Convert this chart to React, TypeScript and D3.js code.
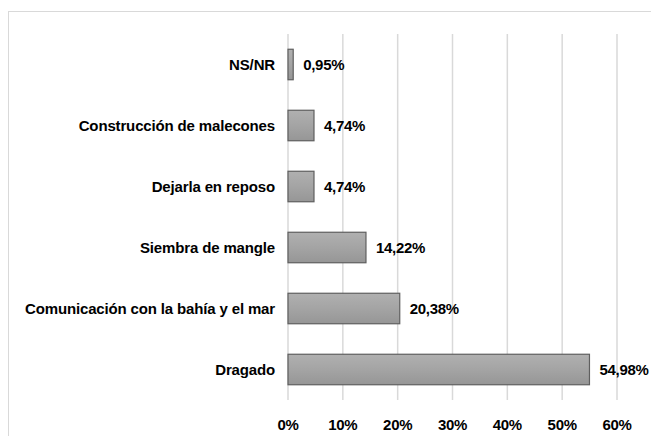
import React from "react";
import * as d3 from "d3";

const categories = [
  "NS/NR",
  "Construcción de malecones",
  "Dejarla en reposo",
  "Siembra de mangle",
  "Comunicación con la bahía y el mar",
  "Dragado",
];
const values = [0.95, 4.74, 4.74, 14.22, 20.38, 54.98];
const valueLabels = ["0,95%", "4,74%", "4,74%", "14,22%", "20,38%", "54,98%"];
const ticks = [0, 10, 20, 30, 40, 50, 60];

export default function App() {
  const W = 651, H = 436;
  const x = d3.scaleLinear().domain([0, 60]).range([288, 617]);
  const y = d3.scaleBand().domain(categories).range([34, 400]).paddingInner(0.5).paddingOuter(0.25);
  const font = "'Liberation Sans', Arial, sans-serif";
  return (
    <svg width={W} height={H} style={{ position: "absolute", left: 0, top: 0 }}>
      <defs>
        <linearGradient id="bg" x1="0" y1="0" x2="0" y2="1">
          <stop offset="0" stopColor="#b0b0b0" />
          <stop offset="0.5" stopColor="#a4a4a4" />
          <stop offset="1" stopColor="#969696" />
        </linearGradient>
      </defs>
      <rect x={0} y={0} width={W} height={H} fill="#fff" />
      <rect x={8.5} y={11.5} width={W + 10} height={H + 10} fill="none" stroke="#d9d9d9" strokeWidth={1} />
      {ticks.map((t) => (
        <line key={t} x1={x(t)} x2={x(t)} y1={34} y2={400} stroke="#d9d9d9" strokeWidth={1.5} />
      ))}
      {categories.map((c, i) => (
        <g key={c}>
          <rect
            x={x(0)}
            y={y(c)!}
            width={x(values[i]) - x(0)}
            height={y.bandwidth()}
            fill="url(#bg)"
            stroke="#5f5f5f"
            strokeWidth={1.2}
          />
          <text
            x={275}
            y={y(c)! + y.bandwidth() / 2}
            dy="0.35em"
            textAnchor="end"
            fontFamily={font}
            fontWeight="bold"
            fontSize={15}
            letterSpacing={-0.15}
            fill="#000"
          >
            {c}
          </text>
          <text
            x={x(values[i]) + 10}
            y={y(c)! + y.bandwidth() / 2}
            dy="0.35em"
            fontFamily={font}
            fontWeight="bold"
            fontSize={15}
            letterSpacing={-0.3}
            fill="#000"
          >
            {valueLabels[i]}
          </text>
        </g>
      ))}
      {ticks.map((t) => (
        <text
          key={t}
          x={x(t)}
          y={425}
          dy="0.35em"
          textAnchor="middle"
          fontFamily={font}
          fontWeight="bold"
          fontSize={15}
          letterSpacing={-0.3}
          fill="#000"
        >
          {t + "%"}
        </text>
      ))}
    </svg>
  );
}
